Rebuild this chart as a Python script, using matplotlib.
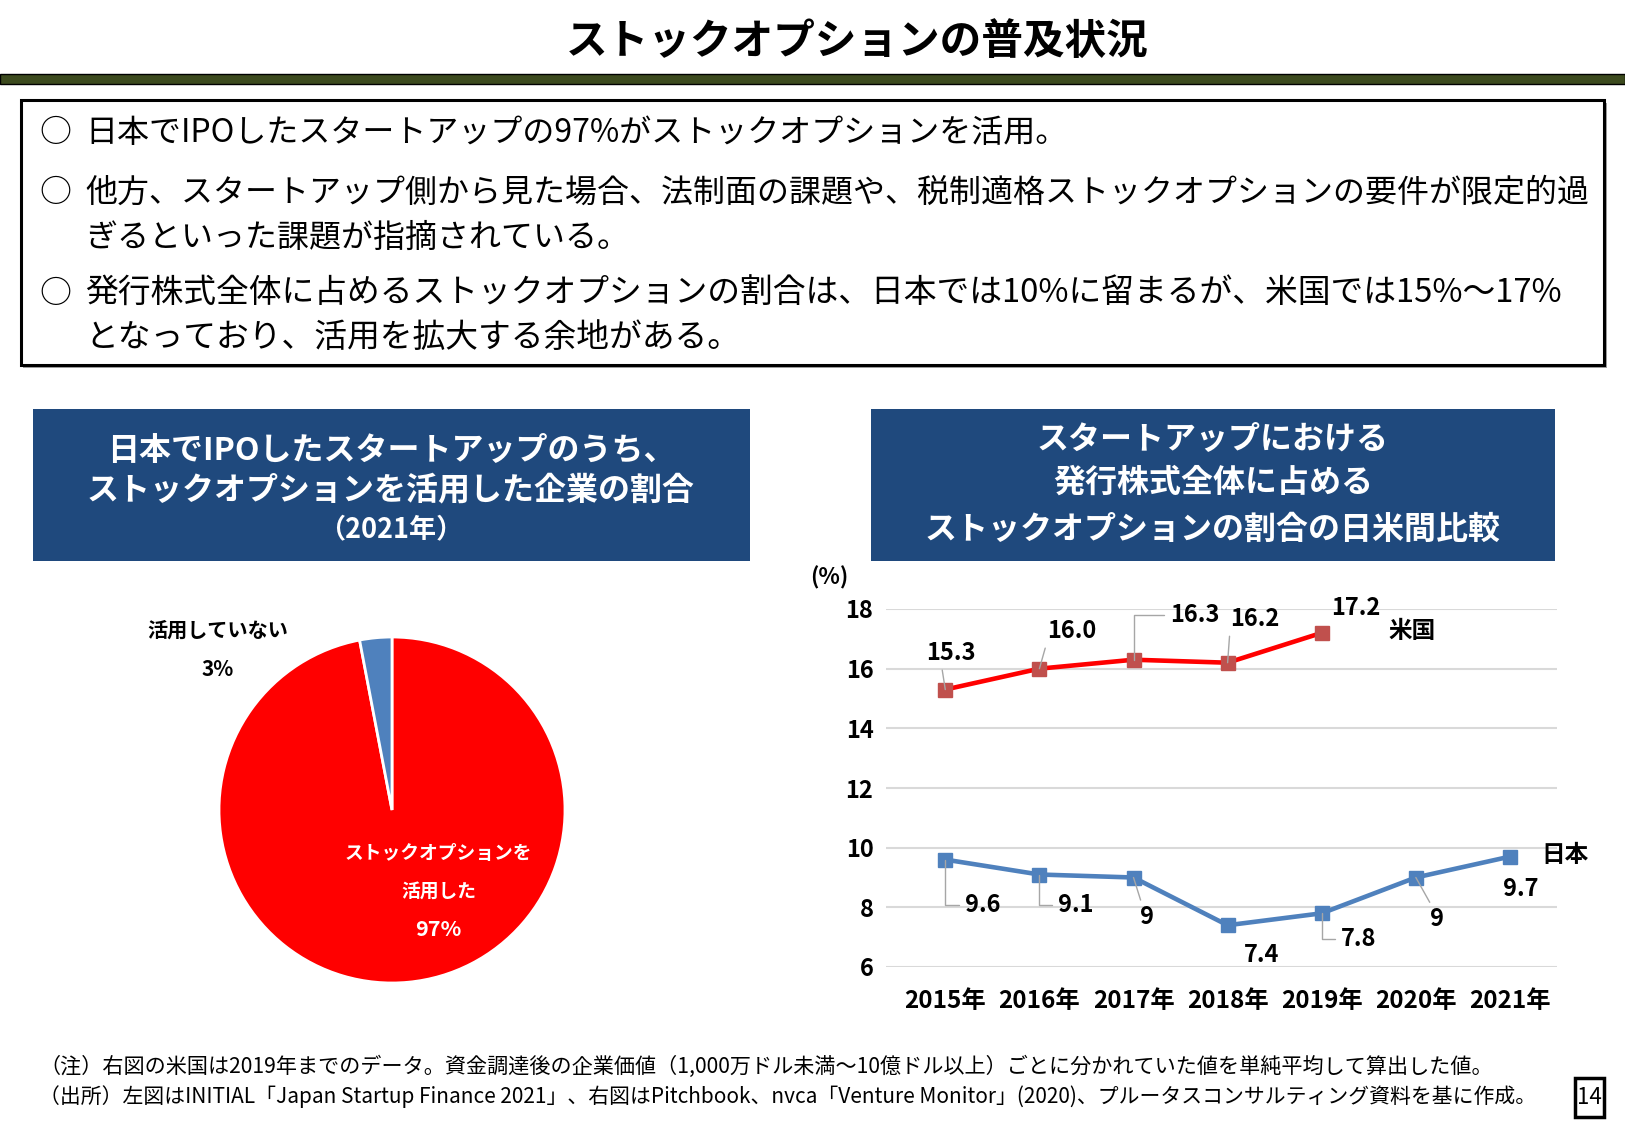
import matplotlib
matplotlib.use('Agg')
import matplotlib.pyplot as plt
from matplotlib.patches import Rectangle

plt.rcParams['font.family'] = ['Noto Sans CJK JP', 'DejaVu Sans']

W, H = 1625, 1125

# --- data ---
pie_values = [97, 3]
pie_colors = ['#FF0000', '#4F81BD']

years = ['2015年', '2016年', '2017年', '2018年', '2019年', '2020年', '2021年']
us_vals = [15.3, 16.0, 16.3, 16.2, 17.2]
us_text = ['15.3', '16.0', '16.3', '16.2', '17.2']
jp_vals = [9.6, 9.1, 9, 7.4, 7.8, 9, 9.7]
jp_text = ['9.6', '9.1', '9', '7.4', '7.8', '9', '9.7']
y_ticks = [6, 8, 10, 12, 14, 16, 18]

bullets = [
    ['日本でIPOしたスタートアップの97%がストックオプションを活用。'],
    ['他方、スタートアップ側から見た場合、法制面の課題や、税制適格ストックオプションの要件が限定的過',
     'ぎるといった課題が指摘されている。'],
    ['発行株式全体に占めるストックオプションの割合は、日本では10%に留まるが、米国では15%～17%',
     'となっており、活用を拡大する余地がある。'],
]
notes = [
    '（注）右図の米国は2019年までのデータ。資金調達後の企業価値（1,000万ドル未満～10億ドル以上）ごとに分かれていた値を単純平均して算出した値。',
    '（出所）左図はINITIAL「Japan Startup Finance 2021」、右図はPitchbook、nvca「Venture Monitor」(2020)、プルータスコンサルティング資料を基に作成。',
]


def fx(x):
    return x / W


def fy(y):
    return 1 - y / H


def rect(x0, y0, x1, y1, **kw):
    fig.add_artist(Rectangle((fx(x0), fy(y1)), (x1 - x0) / W, (y1 - y0) / H,
                             transform=fig.transFigure, **kw))


fig = plt.figure(figsize=(16.25, 11.25), dpi=100)

# title + bar
fig.text(fx(857), fy(42), 'ストックオプションの普及状況', ha='center', va='center',
         fontsize=30, fontweight='bold')
rect(0, 74, W, 84, facecolor='#3C4A1E', edgecolor='black', linewidth=1)

# summary box
rect(23, 103, 1607, 368, facecolor='#A0A0A0', edgecolor='none')
rect(21, 100, 1604, 365, facecolor='white', edgecolor='black', linewidth=2.2)
line_y = [[133], [193, 238], [294, 338]]
line_size = [23, 23, 23.6]
for lines, ys, fs in zip(bullets, line_y, line_size):
    fig.text(fx(39), fy(ys[0]), '○', ha='left', va='center', fontsize=23)
    for s, yy in zip(lines, ys):
        fig.text(fx(85), fy(yy), s, ha='left', va='center', fontsize=fs)

# panel headers
hdr = '#1F497D'
rect(33, 409, 750, 561, facecolor=hdr, edgecolor='none')
fig.text(fx(391), fy(451), '日本でIPOしたスタートアップのうち、', ha='center', va='center',
         color='white', fontsize=23, fontweight='bold')
fig.text(fx(391), fy(490), 'ストックオプションを活用した企業の割合', ha='center', va='center',
         color='white', fontsize=23, fontweight='bold')
fig.text(fx(391), fy(529), '（2021年）', ha='center', va='center',
         color='white', fontsize=19.5, fontweight='bold')

rect(871, 409, 1555, 561, facecolor=hdr, edgecolor='none')
for s, yy in zip(['スタートアップにおける', '発行株式全体に占める', 'ストックオプションの割合の日米間比較'],
                 [439, 483, 530]):
    fig.text(fx(1213), fy(yy), s, ha='center', va='center', color='white',
             fontsize=23, fontweight='bold')

# --- pie ---
cx, cy, r = 392, 810, 173
axp = fig.add_axes([fx(cx - r), fy(cy + r), 2 * r / W, 2 * r / H])
axp.pie(pie_values, colors=pie_colors, startangle=90, counterclock=False,
        wedgeprops=dict(edgecolor='white', linewidth=2))
axp.set_xlim(-1, 1)
axp.set_ylim(-1, 1)
axp.text(-1.006, 1.04, '活用していない', ha='center', va='center', fontsize=14.5,
         fontweight='bold', clip_on=False)
axp.text(-1.006, 0.81, '3%', ha='center', va='center', fontsize=15,
         fontweight='bold', clip_on=False)
axp.text(0.27, -0.254, 'ストックオプションを', ha='center', va='center', fontsize=13.5,
         fontweight='bold', color='white')
axp.text(0.27, -0.468, '活用した', ha='center', va='center', fontsize=13.5,
         fontweight='bold', color='white')
axp.text(0.27, -0.688, '97%', ha='center', va='center', fontsize=15.5,
         fontweight='bold', color='white')

# --- line chart ---
ax = fig.add_axes([fx(886), fy(967), (1557 - 886) / W, (967 - 609) / H])
ax.set_ylim(6, 18)
ax.set_xlim(-0.63, 6.5)
ax.set_yticks(y_ticks)
ax.set_yticklabels([str(t) for t in y_ticks], fontsize=17, fontweight='bold')
ax.set_xticks(range(len(years)))
ax.set_xticklabels(years, fontsize=17.5, fontweight='bold')
ax.tick_params(length=0)
ax.tick_params(axis='y', pad=9)
ax.tick_params(axis='x', pad=16)
ax.grid(axis='y', color='#D9D9D9', linewidth=1.5)
ax.set_axisbelow(True)
for sp in ax.spines.values():
    sp.set_visible(False)

ax.plot(range(len(us_vals)), us_vals, color='#FF0000', lw=3.3, marker='s', ms=10,
        mfc='#C0504D', mec='#C0504D', zorder=3)
ax.plot(range(len(jp_vals)), jp_vals, color='#4F81BD', lw=3.3, marker='s', ms=10.5,
        mfc='#4F81BD', mec='#4F81BD', zorder=3)

lead = dict(arrowstyle='-', color='#A6A6A6', lw=1, shrinkA=2, shrinkB=0)
elbow = dict(lead, connectionstyle='angle,angleA=0,angleB=90,rad=0', relpos=(0, 0.5))

us_off = [(6, 37), (32, 38), (61, 45), (27, 44), (34, 25)]
us_lead = [dict(lead, relpos=(0.3, 0)), dict(lead, relpos=(0, 0)), elbow,
           dict(lead, relpos=(0, 0)), None]
for i, (v, t) in enumerate(zip(us_vals, us_text)):
    ax.annotate(t, xy=(i, v), xytext=us_off[i], textcoords='offset pixels',
                ha='center', va='center', fontsize=17, fontweight='bold',
                arrowprops=us_lead[i], annotation_clip=False)

jp_off = [(37, -45), (36, -30), (13, -40), (34, -30), (37, -26), (21, -42), (11, -32)]
jp_lead = [elbow, elbow, dict(lead, relpos=(0.2, 1)), None, elbow,
           dict(lead, relpos=(0.2, 1)), None]
for i, (v, t) in enumerate(zip(jp_vals, jp_text)):
    ax.annotate(t, xy=(i, v), xytext=jp_off[i], textcoords='offset pixels',
                ha='center', va='center', fontsize=17, fontweight='bold',
                arrowprops=jp_lead[i], annotation_clip=False)

ax.annotate('米国', xy=(len(us_vals) - 1, us_vals[-1]), xytext=(90, 2),
            textcoords='offset pixels', ha='center', va='center', fontsize=17,
            fontweight='bold', annotation_clip=False)
ax.annotate('日本', xy=(len(jp_vals) - 1, jp_vals[-1]), xytext=(55, 2),
            textcoords='offset pixels', ha='center', va='center', fontsize=17,
            fontweight='bold', annotation_clip=False)
fig.text(fx(829), fy(578), '(%)', ha='center', va='center', fontsize=16, fontweight='bold')

# footnotes + page number
fig.text(fx(39), fy(1067), notes[0], ha='left', va='center', fontsize=15.2)
fig.text(fx(39), fy(1097), notes[1], ha='left', va='center', fontsize=15)
rect(1575, 1078, 1604, 1117, facecolor='white', edgecolor='black', linewidth=2.5)
fig.text(fx(1589.5), fy(1097.5), '14', ha='center', va='center', fontsize=16)

fig.savefig('out.png', dpi=100)
